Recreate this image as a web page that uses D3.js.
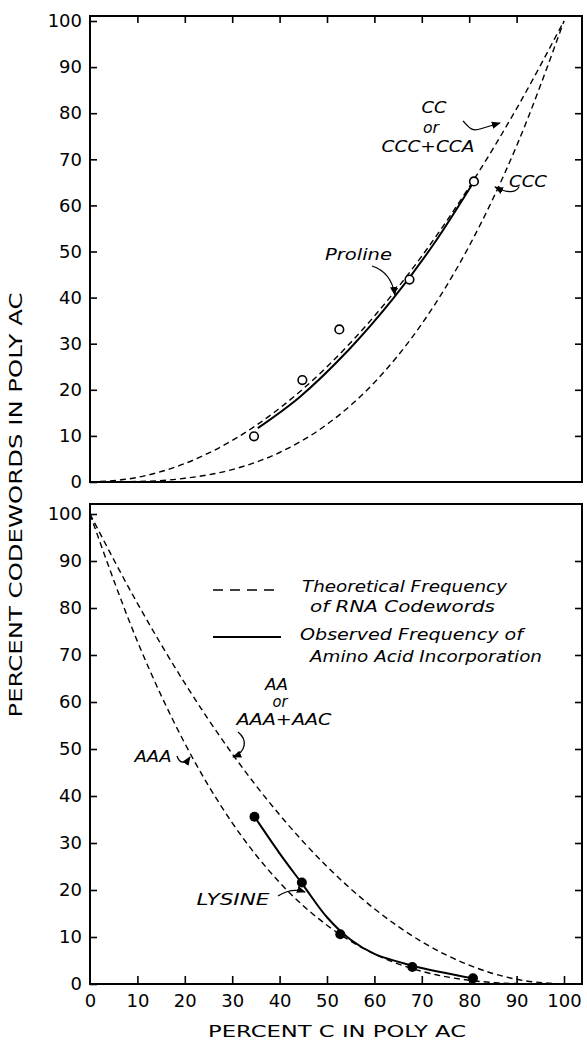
<!DOCTYPE html>
<html><head><meta charset="utf-8">
<script src="https://cdn.jsdelivr.net/npm/d3@7"></script>
<style>
html,body{margin:0;padding:0;background:#fff;}
svg{display:block;}
</style></head>
<body>
<svg id="chart" width="587" height="1040"></svg>
<script>
// ---- data ----
const pctC = [0,10,20,30,40,50,60,70,80,90,100];
const ccTheory  = [0,1,4,9,16,25,36,49,64,81,100];          // CC or CCC+CCA
const cccTheory = [0,0.1,0.8,2.7,6.4,12.5,21.6,34.3,51.2,72.9,100]; // CCC
const aaTheory  = [100,81,64,49,36,25,16,9,4,1,0];          // AA or AAA+AAC
const aaaTheory = [100,72.9,51.2,34.3,21.6,12.5,6.4,2.7,0.8,0.1,0]; // AAA

const prolineX = [34.6,44.8,52.6,67.4,81.0];
const prolineY = [9.9,22.1,33.1,43.9,65.2];
const prolineFitX = [35.4,44.2,54.7,63.9,72.3,81.0];
const prolineFitY = [11.7,18.4,28.8,39.7,51.3,65.2];

const lysineX = [34.7,44.7,52.8,68.0,80.8];
const lysineY = [35.6,21.6,10.6,3.6,1.2];
const lysineFitX = [34.7,40,45,50,55,60,68,80.8];
const lysineFitY = [35.6,27.8,21.0,14.2,9.4,6.4,3.9,1.2];

const yTicks = [0,10,20,30,40,50,60,70,80,90,100];
const xTicks = [0,10,20,30,40,50,60,70,80,90,100];

const xTitle = "PERCENT C IN POLY AC";
const yTitle = "PERCENT CODEWORDS IN POLY AC";

// ---- layout ----
const svg = d3.select("#chart");
const frameL = 90, frameR = 582;
const top1 = 16, bot1 = 482, top2 = 504, bot2 = 984;
const x = d3.scaleLinear().domain([0,100]).range([90,564]);
const yTop = d3.scaleLinear().domain([0,100]).range([482,21]);
const yBot = d3.scaleLinear().domain([0,100]).range([984,514]);

const tickFont = "DejaVu Sans";
const labFont = "DejaVu Sans";

// arrow marker
svg.append("defs").append("marker")
  .attr("id","ah").attr("viewBox","0 0 10 10").attr("refX",9).attr("refY",5)
  .attr("markerWidth",7).attr("markerHeight",7).attr("orient","auto")
  .append("path").attr("d","M0,1 L10,5 L0,9 Z").attr("fill","#000");

function panel(ys, top, bot, opts){
  svg.append("rect").attr("x",frameL).attr("y",top).attr("width",frameR-frameL).attr("height",bot-top)
    .attr("fill","none").attr("stroke","#000").attr("stroke-width",2);
  const gl = svg.append("g").attr("transform",`translate(${frameL},0)`)
    .call(d3.axisLeft(ys).tickValues(yTicks).tickSize(-7).tickPadding(8).tickFormat(d3.format("d")));
  gl.select(".domain").remove();
  gl.selectAll("text").attr("font-family",tickFont).attr("font-size",18).attr("fill","#000");
  gl.selectAll("line").attr("stroke-width",1.6);
  const gr = svg.append("g").attr("transform",`translate(${frameR},0)`)
    .call(d3.axisRight(ys).tickValues(yTicks.filter(d=>d>0&&d<100)).tickSize(-7).tickFormat(""));
  gr.select(".domain").remove();
  gr.selectAll("line").attr("stroke-width",1.6);
  if(opts.topTicks){
    const gt = svg.append("g").attr("transform",`translate(0,${top})`)
      .call(d3.axisTop(x).tickValues(xTicks.filter(d=>d>0&&d<100)).tickSize(-7).tickFormat(""));
    gt.select(".domain").remove();
    gt.selectAll("line").attr("stroke-width",1.6);
  }
  if(opts.bottomLabels){
    const gb = svg.append("g").attr("transform",`translate(0,${bot})`)
      .call(d3.axisBottom(x).tickValues(xTicks).tickSize(-8).tickPadding(10).tickFormat(d3.format("d")));
    gb.select(".domain").remove();
    gb.selectAll("text").attr("font-family",tickFont).attr("font-size",18).attr("fill","#000");
    gb.selectAll("line").attr("stroke-width",1.6);
    gb.selectAll(".tick").filter(d=>d===0).select("line").remove();
  }
}

panel(yTop, top1, bot1, {topTicks:true, bottomLabels:false});
panel(yBot, top2, bot2, {topTicks:false, bottomLabels:true});

function drawCurve(xs, vals, ys, dashed, width, curve){
  const pts = xs.map((d,i)=>[d, vals[i]]);
  svg.append("path").datum(pts)
    .attr("d", d3.line().x(d=>x(d[0])).y(d=>ys(d[1])).curve(curve || d3.curveMonotoneX))
    .attr("fill","none").attr("stroke","#000").attr("stroke-width",width)
    .attr("stroke-dasharray", dashed ? "6,4" : null);
}

// top panel
drawCurve(pctC, ccTheory, yTop, true, 1.4);
drawCurve(pctC, cccTheory, yTop, true, 1.4);
drawCurve(prolineFitX, prolineFitY, yTop, false, 2, d3.curveCatmullRom);
svg.append("g").selectAll("circle").data(prolineX.map((d,i)=>[d,prolineY[i]])).join("circle")
  .attr("cx",d=>x(d[0])).attr("cy",d=>yTop(d[1])).attr("r",4.3)
  .attr("fill","#fff").attr("stroke","#000").attr("stroke-width",1.6);

// bottom panel
drawCurve(pctC, aaTheory, yBot, true, 1.4);
drawCurve(pctC, aaaTheory, yBot, true, 1.4);
drawCurve(lysineFitX, lysineFitY, yBot, false, 2, d3.curveCatmullRom);
svg.append("g").selectAll("circle").data(lysineX.map((d,i)=>[d,lysineY[i]])).join("circle")
  .attr("cx",d=>x(d[0])).attr("cy",d=>yBot(d[1])).attr("r",5)
  .attr("fill","#000");

// annotations
function label(txt, cx, cy, w, size){
  svg.append("text").text(txt).attr("x",cx).attr("y",cy).attr("dy","0.36em")
    .attr("text-anchor","middle").attr("font-family",labFont).attr("font-style","italic")
    .attr("font-size",size||15).attr("textLength",w).attr("lengthAdjust","spacingAndGlyphs");
}
function labelL(txt, lx, cy, w, size){
  svg.append("text").text(txt).attr("x",lx).attr("y",cy).attr("dy","0.36em")
    .attr("font-family",labFont).attr("font-style","italic")
    .attr("font-size",size||15).attr("textLength",w).attr("lengthAdjust","spacingAndGlyphs");
}
function arrow(d){
  svg.append("path").attr("d",d).attr("fill","none").attr("stroke","#000")
    .attr("stroke-width",1.3).attr("marker-end","url(#ah)");
}

label("Proline", 358.5, 255, 67);
arrow("M372,266 Q391,272 395,295");
label("CC", 434, 108, 25);
label("or", 431, 128, 16);
label("CCC+CCA", 428, 147, 93);
arrow("M463,121 C468,126 471,132 480,129 L500,123");
label("CCC", 528, 182, 38);
arrow("M519,187 C515,194 505,192 495,187");

// legend
svg.append("line").attr("x1",213).attr("x2",281).attr("y1",590).attr("y2",590)
  .attr("stroke","#000").attr("stroke-width",1.4).attr("stroke-dasharray","10,7");
svg.append("line").attr("x1",213).attr("x2",281).attr("y1",637).attr("y2",637)
  .attr("stroke","#000").attr("stroke-width",2);
labelL("Theoretical Frequency", 302, 587, 205);
labelL("of RNA Codewords", 310, 607, 185);
labelL("Observed Frequency of", 300, 635, 223);
labelL("Amino Acid Incorporation", 310, 657, 232);

label("AA", 276.5, 685, 23);
label("or", 280, 702, 15);
label("AAA+AAC", 284, 720, 95);
arrow("M238,732 C248,740 246,752 233,757");
label("AAA", 153, 757, 37);
arrow("M177,756 C180,765 186,763 190,757");
label("LYSINE", 233, 900, 73);
arrow("M278,896 C286,891 296,889 305,892");

// axis titles
svg.append("text").text(xTitle).attr("x",337).attr("y",1031).attr("dy","0.36em")
  .attr("text-anchor","middle").attr("font-family","DejaVu Sans").attr("font-size",16)
  .attr("textLength",258).attr("lengthAdjust","spacingAndGlyphs");
svg.append("text").text(yTitle)
  .attr("transform","translate(16,505) rotate(-90)").attr("dy","0.36em")
  .attr("text-anchor","middle").attr("font-family","DejaVu Sans").attr("font-size",17)
  .attr("textLength",425).attr("lengthAdjust","spacingAndGlyphs");
</script>
</body></html>
